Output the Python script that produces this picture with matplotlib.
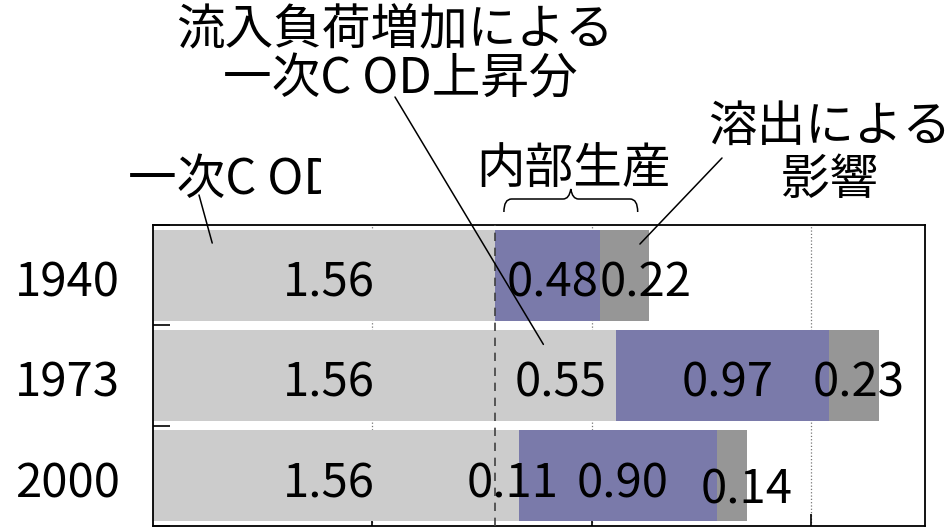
import matplotlib
matplotlib.use("Agg")
import matplotlib.pyplot as plt
from matplotlib.path import Path
from matplotlib.patches import PathPatch
from matplotlib.transforms import blended_transform_factory, offset_copy, Bbox, TransformedBbox

plt.rcParams["font.family"] = ["Noto Sans CJK JP", "DejaVu Sans"]

years = ["1940", "1973", "2000"]
base_cod = [1.56, 1.56, 1.56]          # 一次COD
inflow_rise = [0.0, 0.55, 0.11]        # 流入負荷増加による一次COD上昇分
internal = [0.48, 0.97, 0.90]          # 内部生産
release = [0.22, 0.23, 0.14]           # 溶出による影響

c_light = "#cccccc"
c_purple = "#7a7aaa"
c_dark = "#969696"

W, H = 952, 527
fig = plt.figure(figsize=(W / 100, H / 100), dpi=100)
ax = fig.add_axes([153 / W, 1 / H, (925 - 153) / W, (526 - 225) / H])


def fx(px):
    return px / W


def fy(py):
    return 1 - py / H


y = list(range(len(years)))
h = 0.91
left2 = base_cod
left3 = [a + b for a, b in zip(base_cod, inflow_rise)]
left4 = [a + b for a, b in zip(left3, internal)]

ax.barh(y, base_cod, height=h, color=c_light, zorder=2)
ax.barh(y, inflow_rise, left=left2, height=h, color=c_light, zorder=2)
ax.barh(y, internal, left=left3, height=h, color=c_purple, zorder=2)
ax.barh(y, release, left=left4, height=h, color=c_dark, zorder=2)

ax.set_xlim(0, 3.52)
ax.set_ylim(2.5, -0.5)
ax.axvline(base_cod[0], color="#404040", ls=(0, (5, 4)), lw=1.2, zorder=3)

ax.set_xticks([1, 2, 3])
ax.set_xticklabels([])
ax.grid(axis="x", ls=":", color="#777777", lw=0.9, zorder=0)
ax.tick_params(axis="x", direction="in", length=9, width=1.2, bottom=True, top=False)
ax.set_yticks([-0.5, 0.5, 1.5, 2.5])
ax.set_yticklabels([])
ax.tick_params(axis="y", direction="in", length=12, width=1.2)
for s in ax.spines.values():
    s.set_linewidth(1.3)

fs = 34

# year labels left of the axes
for i, yr in enumerate(years):
    ax.text(-0.15, i, yr, ha="right", va="center", fontsize=fs,
            transform=offset_copy(ax.transData, fig=fig, x=0, y=-8, units="dots"))


def seg_label(x, yi, val, dx=0, dy=0):
    ax.text(x, yi, f"{val:.2f}", ha="center", va="center", fontsize=fs, zorder=5,
            transform=offset_copy(ax.transData, fig=fig, x=5 + dx, y=-8 - dy, units="dots"))


for i in range(len(years)):
    seg_label(base_cod[i] / 2, i, base_cod[i])
    if inflow_rise[i] > 0:
        seg_label(left2[i] + inflow_rise[i] / 2, i, inflow_rise[i])
    seg_label(left3[i] + internal[i] / 2, i, internal[i])
    dx, dy = (0, 0)
    if i == 0:
        dx = 16
    if i == 2:
        dx, dy = 10, 6
    seg_label(left4[i] + release[i] / 2, i, release[i], dx, dy)

# annotation texts
jfs = 35
fig.text(fx(395), fy(30), "流入負荷増加による", ha="center", va="center", fontsize=jfs)
fig.text(fx(400), fy(80), "一次C OD上昇分", ha="center", va="center", fontsize=jfs)
# the left label runs into a cut-off box, so its last letter is clipped
t = fig.text(fx(128), fy(180), "一次C OD", ha="left", va="center", fontsize=jfs)
t.set_clip_box(TransformedBbox(Bbox([[0, 0], [fx(321), 1]]), fig.transFigure))
t.set_clip_on(True)
fig.text(fx(573), fy(170), "内部生産", ha="center", va="center", fontsize=jfs)
fig.text(fx(830), fy(127), "溶出による", ha="center", va="center", fontsize=jfs)
fig.text(fx(830), fy(180), "影響", ha="center", va="center", fontsize=jfs)

# leader lines from the texts into the bars
line_kw = dict(arrowprops=dict(arrowstyle="-", color="black", lw=1.1,
                               shrinkA=0, shrinkB=0),
               xycoords="data", textcoords="figure fraction")
ax.annotate("", xy=(0.27, -0.32), xytext=(fx(199), fy(195)), **line_kw)
ax.annotate("", xy=(1.78, 0.69), xytext=(fx(395), fy(97)), **line_kw)
ax.annotate("", xy=(2.22, -0.31), xytext=(fx(722), fy(158)), **line_kw)

# curly brace over the 1940 internal production + release part
tr = blended_transform_factory(ax.transData, fig.transFigure)
bl = base_cod[0] + 0.04
br = left4[0] + release[0] - 0.05
bm = (bl + br) / 2
u = 0.035
verts = [
    (bl, fy(212)), (bl, fy(199)), (bl + u, fy(199)),
    (bm - u, fy(199)), (bm - u * 0.2, fy(199)), (bm, fy(189)),
    (bm + u * 0.2, fy(199)), (bm + u, fy(199)),
    (br - u, fy(199)), (br, fy(199)), (br, fy(212)),
]
codes = [Path.MOVETO, Path.CURVE3, Path.CURVE3,
         Path.LINETO, Path.CURVE3, Path.CURVE3,
         Path.CURVE3, Path.CURVE3,
         Path.LINETO, Path.CURVE3, Path.CURVE3]
brace = PathPatch(Path(verts, codes), transform=tr, fill=False, lw=1.1,
                  color="black", clip_on=False)
fig.add_artist(brace)

fig.savefig("out.png", dpi=100)
